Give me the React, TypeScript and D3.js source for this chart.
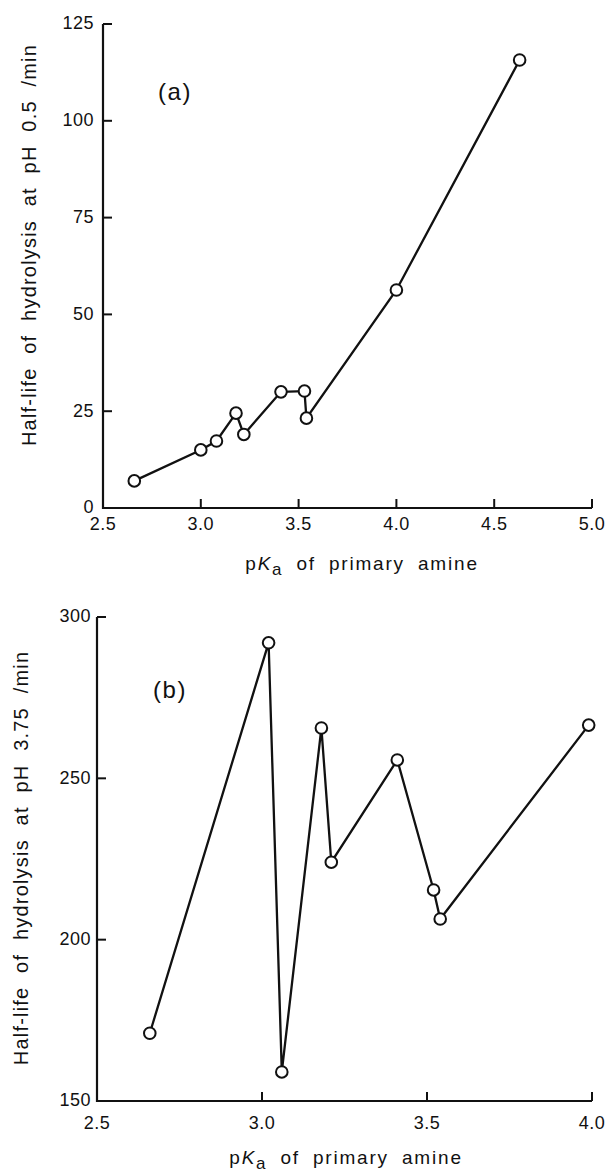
import * as d3 from 'd3';

// pKa of primary amine vs hydrolysis half-life
const pKaA = [2.66, 3.0, 3.08, 3.18, 3.22, 3.41, 3.53, 3.54, 4.0, 4.63];
const halfLifeA = [7, 15, 17.3, 24.5, 19, 30, 30.2, 23.2, 56.3, 115.7];
const xTicksA = [2.5, 3.0, 3.5, 4.0, 4.5, 5.0];
const yTicksA = [0, 25, 50, 75, 100, 125];

const pKaB = [2.66, 3.02, 3.06, 3.18, 3.21, 3.41, 3.52, 3.54, 3.99];
const halfLifeB = [171, 292, 159, 265.6, 224, 255.7, 215.4, 206.4, 266.5];
const xTicksB = [2.5, 3.0, 3.5, 4.0];
const yTicksB = [150, 200, 250, 300];

const FONT = '"Liberation Sans", Arial, Helvetica, sans-serif';

type PanelProps = {
  xs: number[];
  ys: number[];
  xTicks: number[];
  yTicks: number[];
  xRange: [number, number];
  yRange: [number, number];
  tag: string;
  tagPos: [number, number];
  yLabel: string;
  yLabelPos: [number, number];
  xLabelPos: [number, number];
  xTickGap: number;
  yTickGap: number;
};

function Panel(p: PanelProps) {
  const x = d3.scaleLinear().domain(d3.extent(p.xTicks) as [number, number]).range(p.xRange);
  const y = d3.scaleLinear().domain(d3.extent(p.yTicks) as [number, number]).range(p.yRange);
  const x0 = p.xRange[0];
  const y0 = p.yRange[0];
  const tickLen = 9;

  const pts = p.xs.map((v, i) => [x(v), y(p.ys[i])] as [number, number]);
  const line = d3.line();

  const axisPath = `M${x0},${p.yRange[1]} L${x0},${y0} L${p.xRange[1]},${y0}`;

  return (
    <g>
      <path d={axisPath} fill="none" stroke="#111" strokeWidth={2.2} />
      {/* y ticks (inward) */}
      {p.yTicks.slice(1).map((t) => (
        <line key={'yt' + t} x1={x0} x2={x0 + tickLen} y1={y(t)} y2={y(t)} stroke="#111" strokeWidth={2} />
      ))}
      {p.yTicks.map((t) => (
        <text key={'yl' + t} x={x0 - p.yTickGap} y={y(t)} dy="0.3em" textAnchor="end"
          fontSize={18} fontFamily={FONT} fill="#111" letterSpacing={0.5}>
          {t}
        </text>
      ))}
      {/* x ticks (inward) */}
      {p.xTicks.slice(1).map((t) => (
        <line key={'xt' + t} x1={x(t)} x2={x(t)} y1={y0} y2={y0 - tickLen} stroke="#111" strokeWidth={2} />
      ))}
      {p.xTicks.map((t) => (
        <text key={'xl' + t} x={x(t)} y={y0 + p.xTickGap} textAnchor="middle"
          fontSize={18} fontFamily={FONT} fill="#111" letterSpacing={0.5}>
          {t.toFixed(1)}
        </text>
      ))}

      <path d={line(pts) ?? ''} fill="none" stroke="#111" strokeWidth={2.3} />
      {pts.map(([cx, cy], i) => (
        <circle key={i} cx={cx} cy={cy} r={5.8} fill="#fff" stroke="#111" strokeWidth={2} />
      ))}

      <text x={p.tagPos[0]} y={p.tagPos[1]} textAnchor="middle" fontSize={24} fontFamily={FONT}
        fill="#111" letterSpacing={1.5}>
        {p.tag}
      </text>

      <text transform={`translate(${p.yLabelPos[0]},${p.yLabelPos[1]}) rotate(-90)`} textAnchor="middle"
        fontSize={20} fontFamily={FONT} fill="#111" letterSpacing={1.2} wordSpacing={7}>
        {p.yLabel}
      </text>

      <text x={p.xLabelPos[0]} y={p.xLabelPos[1]} textAnchor="middle" fontSize={19} fontFamily={FONT}
        fill="#111" letterSpacing={1.8} wordSpacing={6}>
        <tspan>p</tspan>
        <tspan fontStyle="italic">K</tspan>
        <tspan fontSize={17} dy={5}>a</tspan>
        <tspan dy={-5}> of primary amine</tspan>
      </text>
    </g>
  );
}

export default function App() {
  return (
    <svg width={609} height={1174} viewBox="0 0 609 1174"
      style={{ position: 'absolute', left: 0, top: 0, background: '#fff' }}>
      <rect width={609} height={1174} fill="#fff" />
      <Panel
        xs={pKaA} ys={halfLifeA} xTicks={xTicksA} yTicks={yTicksA}
        xRange={[103, 592]} yRange={[508, 24]}
        tag="(a)" tagPos={[175, 100]}
        yLabel="Half-life of hydrolysis at pH 0.5 /min" yLabelPos={[36, 245]}
        xLabelPos={[362, 570]} xTickGap={22} yTickGap={9}
      />
      <Panel
        xs={pKaB} ys={halfLifeB} xTicks={xTicksB} yTicks={yTicksB}
        xRange={[97, 592]} yRange={[1101, 617]}
        tag="(b)" tagPos={[170, 698]}
        yLabel="Half-life of hydrolysis at pH 3.75 /min" yLabelPos={[28, 858]}
        xLabelPos={[346, 1164]} xTickGap={28} yTickGap={6}
      />
    </svg>
  );
}
